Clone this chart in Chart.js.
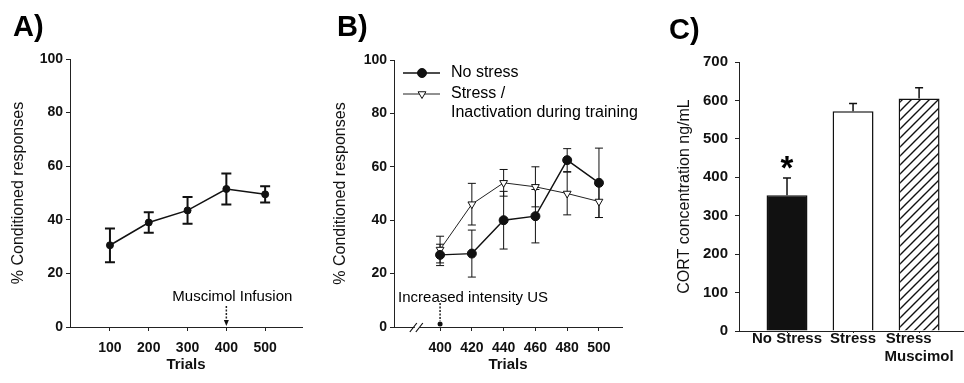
<!DOCTYPE html>
<html>
<head>
<meta charset="utf-8">
<script src="https://cdn.jsdelivr.net/npm/chart.js@4.4.0/dist/chart.umd.min.js"></script>
<style>
  body { margin: 0; background: #fff; }
  #wrap { position: relative; width: 964px; height: 383px; overflow: hidden; font-family: Arial, 'Liberation Sans', sans-serif; }
  .panel { position: absolute; top: 0; height: 383px; }
  .tag { position: absolute; font-weight: bold; font-size: 29px; line-height: 28px; color: #000; }
</style>
</head>
<body>
<div id="wrap">
  <div class="panel" style="left:0;width:320px"><canvas id="chartA"></canvas></div>
  <div class="panel" style="left:320px;width:320px"><canvas id="chartB"></canvas></div>
  <div class="panel" style="left:660px;width:304px"><canvas id="chartC"></canvas></div>
  <div class="tag" style="left:13px;top:12px">A)</div>
  <div class="tag" style="left:337px;top:12px">B)</div>
  <div class="tag" style="left:669px;top:15px">C)</div>
</div>
<script>
// --- data ---
const trialsA = [100, 200, 300, 400, 500];
const crA = [30.5, 39, 43.5, 51.5, 49.5];
const crAErr = [6.3, 3.8, 5, 5.8, 3];

const trialsB = [400, 420, 440, 460, 480, 500];
const noStress = [27, 27.5, 40, 41.5, 62.5, 54];
const noStressErr = [4, 8.8, 10.8, 10, 4.3, 13];
const stress = [29, 46, 54, 52.5, 50, 47];
const stressErr = [5, 7.8, 5, 7.5, 8, 6];

const groupsC = [['No Stress'], ['Stress'], ['Stress     ', 'Muscimol']];
const cort = [353, 572, 605];
const cortErr = [45, 20, 28];

const FONT = "Arial, 'Liberation Sans', sans-serif";
Chart.defaults.font.family = FONT;
Chart.defaults.color = '#000';
Chart.defaults.animation = false;

// error bars, drawn under the markers
const errorBars = {
  id: 'errorBars',
  beforeDatasetsDraw(chart) {
    const ctx = chart.ctx;
    const ys = chart.scales.y;
    chart.data.datasets.forEach((ds, i) => {
      if (!ds.errors) return;
      const st = ds.errorStyle;
      ctx.save();
      ctx.strokeStyle = '#111';
      ctx.lineWidth = st.width;
      chart.getDatasetMeta(i).data.forEach((el, j) => {
        const v = ds.data[j].y;
        const e = ds.errors[j];
        const top = ys.getPixelForValue(v + e);
        const bot = ys.getPixelForValue(st.upperOnly ? v : v - e);
        ctx.beginPath();
        ctx.moveTo(el.x, top); ctx.lineTo(el.x, bot);
        ctx.moveTo(el.x - st.cap / 2, top); ctx.lineTo(el.x + st.cap / 2, top);
        if (!st.upperOnly) { ctx.moveTo(el.x - st.cap / 2, bot); ctx.lineTo(el.x + st.cap / 2, bot); }
        ctx.stroke();
      });
      ctx.restore();
    });
  }
};

// dotted arrow with a note above the x axis
const arrowNote = {
  id: 'arrowNote',
  afterDraw(chart, args, o) {
    const ctx = chart.ctx;
    const x = chart.scales.x.getPixelForValue(o.value);
    const base = chart.scales.y.getPixelForValue(0);
    ctx.save();
    ctx.font = '15px ' + FONT;
    ctx.textAlign = 'center';
    ctx.textBaseline = 'middle';
    ctx.fillStyle = '#000';
    ctx.fillText(o.text, x + o.dx, base - o.textRise);
    ctx.strokeStyle = '#222';
    ctx.lineWidth = 1.5;
    ctx.setLineDash([2, 1.5]);
    ctx.beginPath();
    ctx.moveTo(x, base - o.lineRise); ctx.lineTo(x, base - 6);
    ctx.stroke();
    ctx.setLineDash([]);
    ctx.fillStyle = '#111';
    ctx.beginPath();
    if (o.head === 'arrow') {
      ctx.moveTo(x - 2.5, base - 7); ctx.lineTo(x + 2.5, base - 7); ctx.lineTo(x, base - 1);
    } else {
      ctx.arc(x, base - 3, 2.5, 0, Math.PI * 2);
    }
    ctx.fill();
    ctx.restore();
  }
};

// "//" break on the x axis
const axisBreak = {
  id: 'axisBreak',
  afterDraw(chart, args, o) {
    const ctx = chart.ctx;
    const x = chart.scales.x.getPixelForValue(o.at);
    const y = chart.chartArea.bottom;
    ctx.save();
    ctx.fillStyle = '#fff';
    ctx.fillRect(x - 3, y - 2, 5, 4);
    ctx.strokeStyle = '#111';
    ctx.lineWidth = 1.2;
    ctx.beginPath();
    ctx.moveTo(x - 8, y + 5); ctx.lineTo(x - 1, y - 4);
    ctx.moveTo(x - 2, y + 5); ctx.lineTo(x + 5, y - 4);
    ctx.stroke();
    ctx.restore();
  }
};

// legend inside the plot of panel B
const insideLegend = {
  id: 'insideLegend',
  afterDraw(chart) {
    const {ctx, chartArea} = chart;
    let y = chartArea.top + 13;
    ctx.save();
    ctx.font = '16px ' + FONT;
    ctx.textBaseline = 'middle';
    chart.data.datasets.forEach(ds => {
      const x0 = chartArea.left + 9;
      ctx.strokeStyle = ds.borderColor;
      ctx.lineWidth = ds.borderWidth;
      ctx.beginPath(); ctx.moveTo(x0, y); ctx.lineTo(x0 + 37, y); ctx.stroke();
      ctx.fillStyle = ds.pointBackgroundColor;
      ctx.strokeStyle = ds.pointBorderColor;
      ctx.lineWidth = ds.pointBorderWidth;
      Chart.helpers.drawPoint(ctx, {
        pointStyle: ds.pointStyle, radius: ds.pointRadius,
        rotation: ds.pointRotation || 0, borderWidth: ds.pointBorderWidth
      }, x0 + 19, y);
      ctx.fillStyle = '#000';
      const lines = ds.label.split('\n');
      lines.forEach((line, k) => ctx.fillText(line, chartArea.left + 57, y + k * 19));
      y += 21 + (lines.length - 1) * 19;
    });
    ctx.restore();
  }
};

// significance star over the first bar
const star = {
  id: 'star',
  afterDatasetsDraw(chart) {
    const ctx = chart.ctx;
    const el = chart.getDatasetMeta(0).data[0];
    const y = chart.scales.y.getPixelForValue(cort[0] + cortErr[0]);
    ctx.save();
    ctx.font = 'bold 33px ' + FONT;
    ctx.textAlign = 'center';
    ctx.textBaseline = 'alphabetic';
    ctx.fillStyle = '#000';
    ctx.fillText('*', el.x, y + 1);
    ctx.restore();
  }
};

function yAxis(width, title, titlePad, max, step, tickSize, tickPad) {
  return {
    type: 'linear', min: 0, max: max,
    ticks: { stepSize: step, font: { size: tickSize, weight: 'bold' }, padding: tickPad, color: '#111' },
    grid: { drawOnChartArea: false, tickLength: 4, color: '#222' },
    border: { color: '#222', width: 1 },
    title: { display: true, text: title, font: { size: 16 }, padding: { top: titlePad, bottom: 0 }, color: '#111' },
    afterFit(s) { s.width = width; }
  };
}

function xAxis(height, min, max, values, extra) {
  return Object.assign({
    type: 'linear', min: min, max: max, offset: false,
    afterBuildTicks(s) { s.ticks = values.map(v => ({ value: v })); },
    ticks: { font: { size: 14, weight: 'bold' }, padding: 9, color: '#111', maxRotation: 0, autoSkip: false },
    grid: { drawOnChartArea: false, offset: false, tickLength: 4, color: '#222' },
    border: { color: '#222', width: 1 },
    title: { display: true, text: 'Trials', font: { size: 15, weight: 'bold' }, padding: { top: 0, bottom: 9 }, color: '#111' },
    afterFit(s) { s.height = height; s.paddingLeft = 0; s.paddingRight = 0; }
  }, extra || {});
}

// --- A ---
new Chart(document.getElementById('chartA'), {
  type: 'line',
  data: {
    datasets: [{
      data: trialsA.map((t, i) => ({ x: t, y: crA[i] })),
      errors: crAErr,
      errorStyle: { width: 2, cap: 10 },
      borderColor: '#111', borderWidth: 1.5,
      pointStyle: 'circle', pointRadius: 3.5,
      pointBackgroundColor: '#111', pointBorderColor: '#111', pointBorderWidth: 1
    }]
  },
  options: {
    responsive: true, maintainAspectRatio: false,
    layout: { padding: { top: 59, right: 18, left: 0, bottom: 0 } },
    scales: {
      x: xAxis(56, -3, 595, trialsA),
      y: yAxis(70, '% Conditioned responses', 9, 100, 20, 14, 3)
    },
    plugins: {
      legend: { display: false }, tooltip: { enabled: false },
      arrowNote: { value: 400, text: 'Muscimol Infusion', dx: 6, textRise: 30, lineRise: 21, head: 'arrow' }
    }
  },
  plugins: [errorBars, arrowNote]
});

// --- B ---
new Chart(document.getElementById('chartB'), {
  type: 'line',
  data: {
    datasets: [{
      label: 'No stress',
      data: trialsB.map((t, i) => ({ x: t, y: noStress[i] })),
      errors: noStressErr,
      errorStyle: { width: 1, cap: 8 },
      borderColor: '#111', borderWidth: 1.4,
      pointStyle: 'circle', pointRadius: 4.5,
      pointBackgroundColor: '#111', pointBorderColor: '#111', pointBorderWidth: 1
    }, {
      label: 'Stress /\nInactivation during training',
      data: trialsB.map((t, i) => ({ x: t, y: stress[i] })),
      errors: stressErr,
      errorStyle: { width: 1, cap: 8 },
      borderColor: '#222', borderWidth: 1,
      pointStyle: 'triangle', pointRotation: 180, pointRadius: 4.5,
      pointBackgroundColor: '#fff', pointBorderColor: '#111', pointBorderWidth: 1
    }]
  },
  options: {
    responsive: true, maintainAspectRatio: false,
    layout: { padding: { top: 60, right: 18, left: 0, bottom: 0 } },
    scales: {
      x: xAxis(56, 371, 514.5, trialsB),
      y: yAxis(74, '% Conditioned responses', 11, 100, 20, 14, 3)
    },
    plugins: {
      legend: { display: false }, tooltip: { enabled: false },
      arrowNote: { value: 400, text: 'Increased intensity US', dx: 33, textRise: 29, lineRise: 24, head: 'dot' },
      axisBreak: { at: 386 }
    }
  },
  plugins: [errorBars, arrowNote, axisBreak, insideLegend]
});

// --- C ---
function hatch() {
  const c = document.createElement('canvas');
  c.width = 9; c.height = 9;
  const g = c.getContext('2d');
  g.fillStyle = '#fff'; g.fillRect(0, 0, 9, 9);
  g.strokeStyle = '#111'; g.lineWidth = 1.4;
  g.beginPath();
  g.moveTo(-1, 10); g.lineTo(10, -1);
  g.moveTo(-1, 1); g.lineTo(1, -1);
  g.moveTo(8, 10); g.lineTo(10, 8);
  g.stroke();
  return g.createPattern(c, 'repeat');
}

new Chart(document.getElementById('chartC'), {
  type: 'bar',
  data: {
    datasets: [{
      data: cort.map((v, i) => ({ x: i, y: v })),
      errors: cortErr,
      errorStyle: { width: 1.5, cap: 8, upperOnly: true },
      backgroundColor: ['#111', '#fff', hatch()],
      borderColor: '#111', borderWidth: 1.5,
      categoryPercentage: 1, barPercentage: 0.62
    }]
  },
  options: {
    responsive: true, maintainAspectRatio: false,
    layout: { padding: { top: 62, right: 0, left: 0, bottom: 0 } },
    scales: {
      x: xAxis(52, -0.727, 2.68, groupsC.map((g, i) => i), {
        ticks: {
          font: { size: 15, weight: 'bold', lineHeight: 1.2 }, padding: -3, color: '#111', maxRotation: 0, autoSkip: false,
          callback: v => groupsC[v]
        },
        grid: { drawOnChartArea: false, offset: false, tickLength: 2, color: '#222' },
        title: { display: false }
      }),
      y: yAxis(79, 'CORT concentration ng/mL', 15, 700, 100, 15, 7)
    },
    plugins: { legend: { display: false }, tooltip: { enabled: false } }
  },
  plugins: [errorBars, star]
});
</script>
</body>
</html>
